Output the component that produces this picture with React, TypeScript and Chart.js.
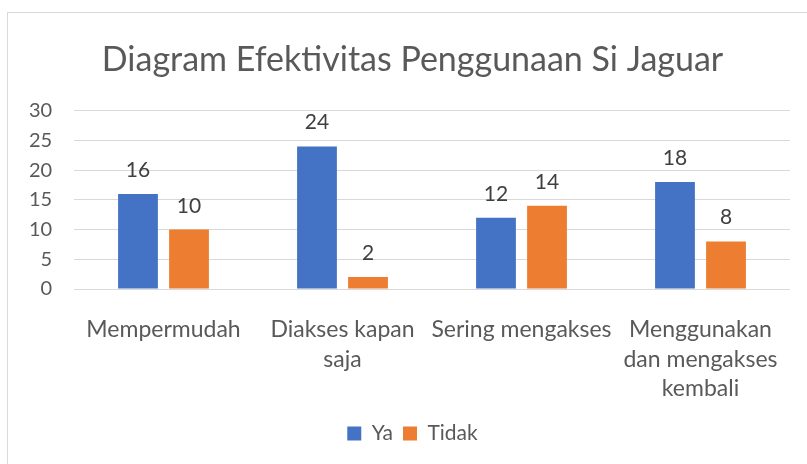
import React, { useEffect, useRef } from "react";
import { Chart, registerables } from "chart.js";

Chart.register(...registerables);

const categories: (string | string[])[] = [
  "Mempermudah",
  ["Diakses kapan", "saja"],
  "Sering mengakses",
  ["Menggunakan", "dan mengakses", "kembali"],
];
const yaValues = [16, 24, 12, 18];
const tidakValues = [10, 2, 14, 8];
const yTicks = [0, 5, 10, 15, 20, 25, 30];

const FONT = "Lato, 'Open Sans', sans-serif";

const dataLabelPlugin = {
  id: "dataLabels",
  afterDatasetsDraw(chart: any) {
    const { ctx } = chart;
    ctx.save();
    ctx.font = `21px ${FONT}`;
    ctx.fillStyle = "#404040";
    ctx.textAlign = "center";
    ctx.textBaseline = "alphabetic";
    chart.data.datasets.forEach((ds: any, i: number) => {
      const meta = chart.getDatasetMeta(i);
      meta.data.forEach((bar: any, j: number) => {
        ctx.fillText(String(ds.data[j]), bar.x, bar.y - 17);
      });
    });
    ctx.restore();
  },
};

export default function App() {
  const ref = useRef<HTMLCanvasElement>(null);
  useEffect(() => {
    if (!ref.current) return;
    const chart = new Chart(ref.current, {
      type: "bar",
      data: {
        labels: categories,
        datasets: [
          { label: "Ya", data: yaValues, backgroundColor: "#4472C4" },
          { label: "Tidak", data: tidakValues, backgroundColor: "#ED7D31" },
        ],
      },
      options: {
        animation: false,
        responsive: false,
        maintainAspectRatio: false,
        layout: { padding: { left: 35, right: 17, top: 0, bottom: 10 } },
        datasets: { bar: { categoryPercentage: 0.57, barPercentage: 0.78 } } as any,
        plugins: {
          title: {
            display: true,
            text: "Diagram Efektivitas Penggunaan Si Jaguar",
            color: "#595959",
            font: { family: FONT, size: 34, weight: "normal" },
            padding: { top: 40, bottom: 30 },
          },
          legend: {
            position: "bottom",
            labels: {
              color: "#595959",
              font: { family: FONT, size: 21 },
              boxWidth: 14,
              boxHeight: 14,
              padding: 10,
            },
          },
          tooltip: { enabled: false },
        },
        scales: {
          x: {
            grid: { display: false },
            border: { display: false },
            ticks: {
              color: "#595959",
              font: { family: FONT, size: 23, lineHeight: 1.28 },
              maxRotation: 0,
              autoSkip: false,
              padding: 18,
            },
            afterFit: (s: any) => {
              s.height = 124;
            },
          },
          y: {
            min: 0,
            max: 30,
            afterBuildTicks: (s: any) => {
              s.ticks = yTicks.map((v) => ({ value: v }));
            },
            grid: { color: "#d9d9d9", drawTicks: false },
            border: { display: false },
            ticks: {
              color: "#595959",
              font: { family: FONT, size: 20 },
              mirror: true,
              crossAlign: "far",
              padding: -45,
            },
            afterFit: (s: any) => {
              s.width = 39;
            },
          } as any,
        },
      },
      plugins: [dataLabelPlugin],
    });
    return () => chart.destroy();
  }, []);
  return (
    <div style={{ position: "fixed", left: 0, top: 0, width: 807, height: 464, background: "#fff", overflow: "hidden" }}>
      <div
        style={{
          position: "absolute",
          left: 7,
          top: 12,
          width: 830,
          height: 480,
          border: "1px solid #d9d9d9",
          boxSizing: "border-box",
        }}
      />
      <canvas ref={ref} width={807} height={464} style={{ position: "absolute", left: 0, top: 0 }} />
    </div>
  );
}
